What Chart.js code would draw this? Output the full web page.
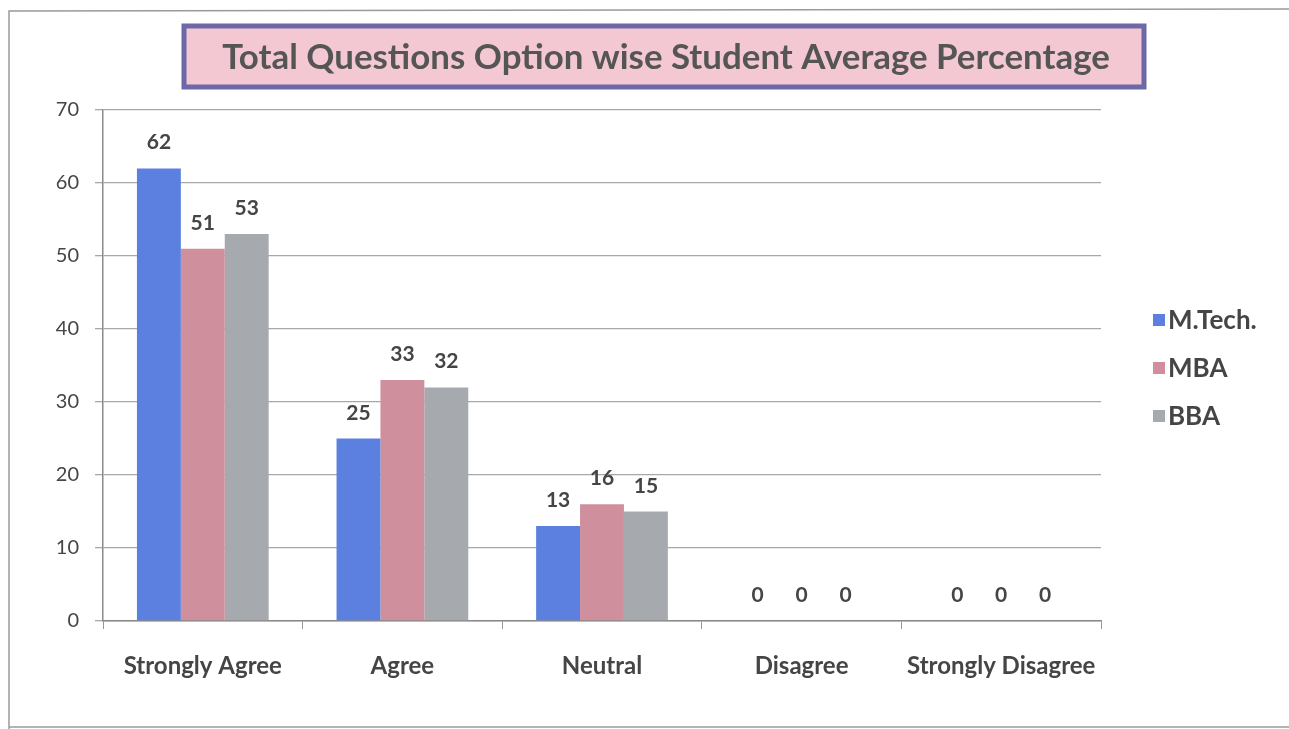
<!DOCTYPE html>
<html>
<head>
<meta charset="utf-8">
<title>Total Questions Option wise Student Average Percentage</title>
<script src="https://cdn.jsdelivr.net/npm/chart.js@4/dist/chart.umd.min.js"></script>
<style>
  html, body { margin: 0; padding: 0; background: #ffffff; }
  #wrap { width: 1289px; height: 729px; position: relative; }
  canvas { display: block; }
</style>
</head>
<body>
<div id="wrap"><canvas id="chart" width="1289" height="729"></canvas></div>
<script>
// Survey options and average percentage per programme
const categories = ["Strongly Agree", "Agree", "Neutral", "Disagree", "Strongly Disagree"];
const seriesNames = ["M.Tech.", "MBA", "BBA"];
const mtech = [62, 25, 13, 0, 0];
const mba = [51, 33, 16, 0, 0];
const bba = [53, 32, 15, 0, 0];
const yTicks = [0, 10, 20, 30, 40, 50, 60, 70];
const chartTitle = "Total Questions Option wise Student Average Percentage";

const FONT = "Lato, 'Open Sans', 'DejaVu Sans', sans-serif";
const TEXT = "#454545";
const colors = ["#5b80df", "#d08f9d", "#a6a9ae"];

// Page frame, boxed title, value labels and side legend
const decorations = {
  id: "decorations",
  beforeDraw(chart) {
    const ctx = chart.ctx;
    ctx.save();
    ctx.fillStyle = "#ffffff";
    ctx.fillRect(0, 0, chart.width, chart.height);
    ctx.strokeStyle = "#9a9a9a";
    ctx.lineWidth = 1.5;
    ctx.beginPath();
    ctx.moveTo(9, chart.height);
    ctx.lineTo(9, 11);
    ctx.lineTo(chart.width, 9);
    ctx.moveTo(9, 727);
    ctx.lineTo(chart.width, 727);
    ctx.stroke();

    // title box
    const bx = 184, by = 26, bw = 960, bh = 61;
    ctx.fillStyle = "#f3c8d3";
    ctx.fillRect(bx, by, bw, bh);
    ctx.strokeStyle = "#6c69a6";
    ctx.lineWidth = 5;
    ctx.strokeRect(bx, by, bw, bh);
    ctx.font = "bold 100px " + FONT;
    const w100 = ctx.measureText(chartTitle).width;
    const size = 100 * 888 / w100;
    ctx.font = "bold " + size.toFixed(2) + "px " + FONT;
    ctx.fillStyle = "#555555";
    ctx.textAlign = "center";
    ctx.textBaseline = "middle";
    ctx.fillText(chartTitle, bx + bw / 2 + 2, by + bh / 2 + 1);
    ctx.restore();
  },
  afterDatasetsDraw(chart) {
    const ctx = chart.ctx;
    ctx.save();
    ctx.font = "bold 21px " + FONT;
    ctx.fillStyle = TEXT;
    ctx.textAlign = "center";
    ctx.textBaseline = "alphabetic";
    chart.data.datasets.forEach((ds, i) => {
      const meta = chart.getDatasetMeta(i);
      meta.data.forEach((bar, j) => {
        ctx.fillText(String(ds.data[j]), bar.x, bar.y - 19);
      });
    });

    // legend
    ctx.font = "bold 26px " + FONT;
    ctx.textAlign = "left";
    ctx.textBaseline = "middle";
    chart.data.datasets.forEach((ds, i) => {
      const cy = 320 + i * 48;
      ctx.fillStyle = ds.backgroundColor;
      ctx.fillRect(1153, cy - 6, 12, 12);
      ctx.fillStyle = TEXT;
      ctx.fillText(ds.label, 1168, cy + 1);
    });
    ctx.restore();
  }
};

new Chart(document.getElementById("chart"), {
  type: "bar",
  data: {
    labels: categories,
    datasets: [
      { label: seriesNames[0], data: mtech, backgroundColor: colors[0] },
      { label: seriesNames[1], data: mba, backgroundColor: colors[1] },
      { label: seriesNames[2], data: bba, backgroundColor: colors[2] }
    ]
  },
  options: {
    responsive: false,
    animation: false,
    devicePixelRatio: 1,
    layout: { padding: { top: 110, right: 188, bottom: 0, left: 0 } },
    datasets: { bar: { categoryPercentage: 0.66, barPercentage: 1.0 } },
    plugins: {
      legend: { display: false },
      title: { display: false },
      tooltip: { enabled: false }
    },
    scales: {
      x: {
        afterFit(scale) { scale.height = 108; },
        grid: { display: true, drawOnChartArea: false, drawTicks: true, tickLength: 8, color: "#9a9a9a", offset: true },
        border: { display: true, color: "#8a8a8a", width: 1.5 },
        ticks: { color: TEXT, font: { family: FONT, size: 24, weight: "bold" }, padding: 23 }
      },
      y: {
        min: 0,
        max: 70,
        afterFit(scale) { scale.width = 103; },
        afterBuildTicks(scale) { scale.ticks = yTicks.map(v => ({ value: v })); },
        grid: { color: "#a8a8a8", lineWidth: 1.3, tickLength: 8 },
        border: { display: true, color: "#8a8a8a", width: 1.5 },
        ticks: { color: TEXT, font: { family: FONT, size: 20 }, padding: 16 }
      }
    }
  },
  plugins: [decorations]
});
</script>
</body>
</html>
